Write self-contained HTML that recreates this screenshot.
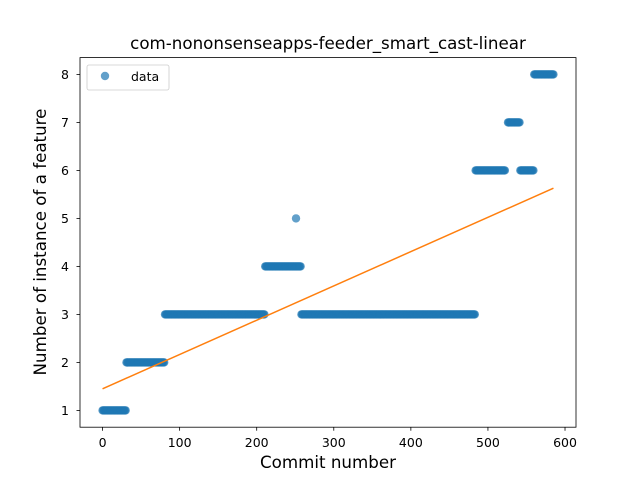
<!DOCTYPE html>
<html><head><meta charset="utf-8"><style>
body{margin:0;background:#fff}
svg{display:block;font-family:"DejaVu Sans","Liberation Sans",sans-serif}
</style></head><body>
<svg id="chart" width="640" height="480">
<rect width="640" height="480" fill="#fff"/>
<text x="328" y="49" text-anchor="middle" font-size="16.7">com-nononsenseapps-feeder_smart_cast-linear</text>
<g id="plot"></g>
<rect x="80" y="57.6" width="496" height="369.6" fill="none" stroke="#000" stroke-width="0.8"/>
<g id="xt"></g><g id="yt"></g>
<text x="328" y="468" text-anchor="middle" font-size="16.7">Commit number</text>
<text transform="translate(46,242) rotate(-90)" text-anchor="middle" font-size="16.7">Number of instance of a feature</text>
<g>
<rect x="87" y="65" width="82" height="25" rx="2" fill="#fff" fill-opacity="0.8" stroke="#ccc" stroke-width="0.8"/>
<circle cx="105" cy="76" r="4.2" fill="#1f77b4" fill-opacity="0.7"/>
<text x="131" y="81" font-size="12.5">data</text>
</g>
</svg>
<script>
const runStarts=[0,31,81,211,251,258,484,526,542,560];
const runEnds=[30,80,210,257,251,483,522,541,559,585];
const runValues=[1,2,3,4,5,3,6,7,6,8];
const fitX=[0,585];
const fitY=[1.45,5.63];
const xTicks=[0,100,200,300,400,500,600];
const yTicks=[1,2,3,4,5,6,7,8];
const xMin=-29.25,xMax=614.25,yMin=0.65,yMax=8.35;
const X=v=>80+(v-xMin)/(xMax-xMin)*496;
const Y=v=>427.2-(v-yMin)/(yMax-yMin)*369.6;
const NS="http://www.w3.org/2000/svg";
const plot=document.getElementById('plot');
for(let r=0;r<runStarts.length;r++){
  for(let i=runStarts[r];i<=runEnds[r];i++){
    const c=document.createElementNS(NS,'circle');
    c.setAttribute('cx',X(i));c.setAttribute('cy',Y(runValues[r]));
    c.setAttribute('r',4.2);c.setAttribute('fill','#1f77b4');c.setAttribute('fill-opacity','0.7');
    
    
    plot.appendChild(c);
  }
}
const ln=document.createElementNS(NS,'line');
ln.setAttribute('x1',X(fitX[0]));ln.setAttribute('y1',Y(fitY[0]));
ln.setAttribute('x2',X(fitX[1]));ln.setAttribute('y2',Y(fitY[1]));
ln.setAttribute('stroke','#ff7f0e');ln.setAttribute('stroke-width','1.5');


plot.appendChild(ln);
const xt=document.getElementById('xt');
xTicks.forEach(t=>{
  const l=document.createElementNS(NS,'line');
  l.setAttribute('x1',X(t));l.setAttribute('x2',X(t));l.setAttribute('y1',427.2);l.setAttribute('y2',430.7);
  l.setAttribute('stroke','#000');l.setAttribute('stroke-width','0.8');
  
  
  xt.appendChild(l);
  const s=document.createElementNS(NS,'text');
  s.setAttribute('x',X(t));s.setAttribute('y',447);s.setAttribute('text-anchor','middle');s.setAttribute('font-size','12.5');
  s.textContent=t;
  
  
  xt.appendChild(s);
});
const yt=document.getElementById('yt');
yTicks.forEach(t=>{
  const l=document.createElementNS(NS,'line');
  l.setAttribute('x1',76.5);l.setAttribute('x2',80);l.setAttribute('y1',Y(t));l.setAttribute('y2',Y(t));
  l.setAttribute('stroke','#000');l.setAttribute('stroke-width','0.8');
  
  
  yt.appendChild(l);
  const s=document.createElementNS(NS,'text');
  s.setAttribute('x',69);s.setAttribute('y',Y(t)+4.5);s.setAttribute('text-anchor','end');s.setAttribute('font-size','12.5');
  s.textContent=t;
  
  
  yt.appendChild(s);
});
</script>
</body></html>
